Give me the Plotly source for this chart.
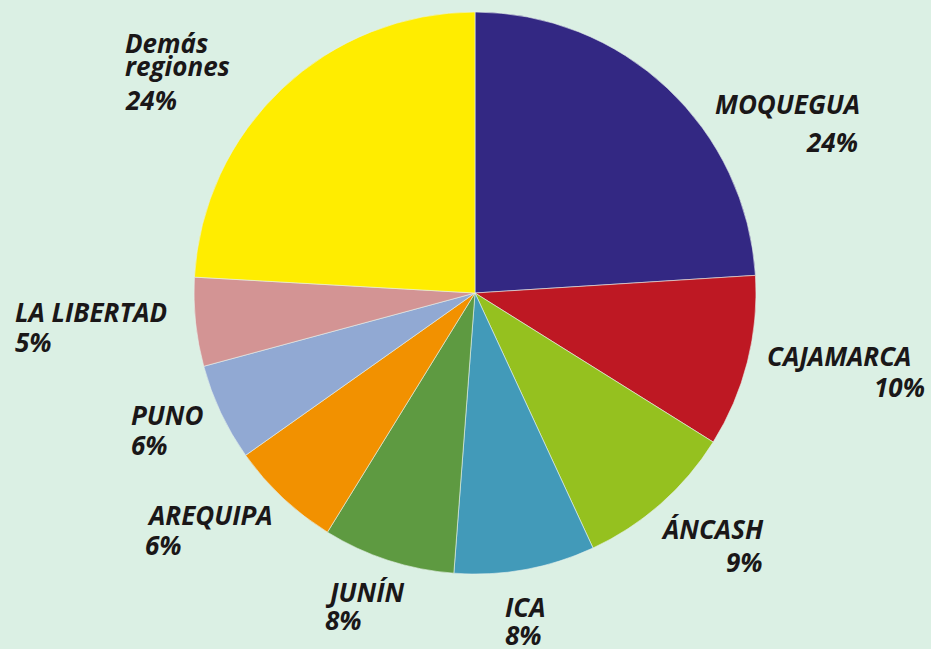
import plotly.graph_objects as go

# ---- data ----
regions = ["MOQUEGUA", "CAJAMARCA", "ÁNCASH", "ICA", "JUNÍN",
           "AREQUIPA", "PUNO", "LA LIBERTAD", "Demás<br>regiones"]
shares = [24.0, 9.9, 9.2, 8.1, 7.6, 6.4, 5.6, 5.1, 24.1]
colors = ["#332883", "#be1823", "#95c11f", "#429ab9", "#5e9a41",
          "#f29100", "#91a9d3", "#d39494", "#ffed00"]

W, H = 931, 649
BG = "#dbf0e4"
FS = 26
TXT = "#1a1718"

# label layout (pixels): anchor side, x of anchor, baselines of each name line, pct x, pct baseline
label_side = ["right", "right", "right", "left", "left", "left", "left", "left", "left"]
name_x = [862, 913, 766, 503, 323, 145, 129, 13, 123]
name_base = [[114], [366], [539], [617], [602], [525], [425], [322], [53, 76]]
pct_x = [860, 927, 765, 503, 323, 143, 129, 13, 123]
pct_base = [152, 397, 572, 645, 630, 555, 455, 352, 110]

fig = go.Figure()
fig.add_trace(go.Pie(
    labels=regions, values=shares, sort=False, direction="clockwise",
    rotation=0, textinfo="none", hoverinfo="label+percent",
    marker=dict(colors=colors, line=dict(color="#e8f2ec", width=0.6)),
    domain=dict(x=[194 / W, 756 / W], y=[1 - 574 / H, 1 - 12 / H]),
    showlegend=False,
))

total = sum(shares)
ann = []
BASE_OFF = 10  # px from baseline to annotation box bottom


def add_line(text, side, x, base):
    ann.append(dict(
        text=f"<b><i>{text}</i></b>", x=x / W, y=1 - (base + BASE_OFF) / H,
        xref="paper", yref="paper", xanchor=side, yanchor="bottom",
        align=side, showarrow=False,
        font=dict(family="Open Sans", size=FS, color=TXT),
    ))


for i, name in enumerate(regions):
    lines = name.split("<br>")
    for ln, b in zip(lines, name_base[i]):
        add_line(ln, label_side[i], name_x[i], b)
    pct = round(shares[i] / total * 100)
    add_line(f"{pct}%", label_side[i], pct_x[i], pct_base[i])

fig.update_layout(
    width=W, height=H, margin=dict(l=0, r=0, t=0, b=0),
    paper_bgcolor=BG, plot_bgcolor=BG, annotations=ann,
)
fig.write_html("out.html", config={"displayModeBar": False},
               post_script="document.body.style.margin='0';document.body.style.background='%s';" % BG)
